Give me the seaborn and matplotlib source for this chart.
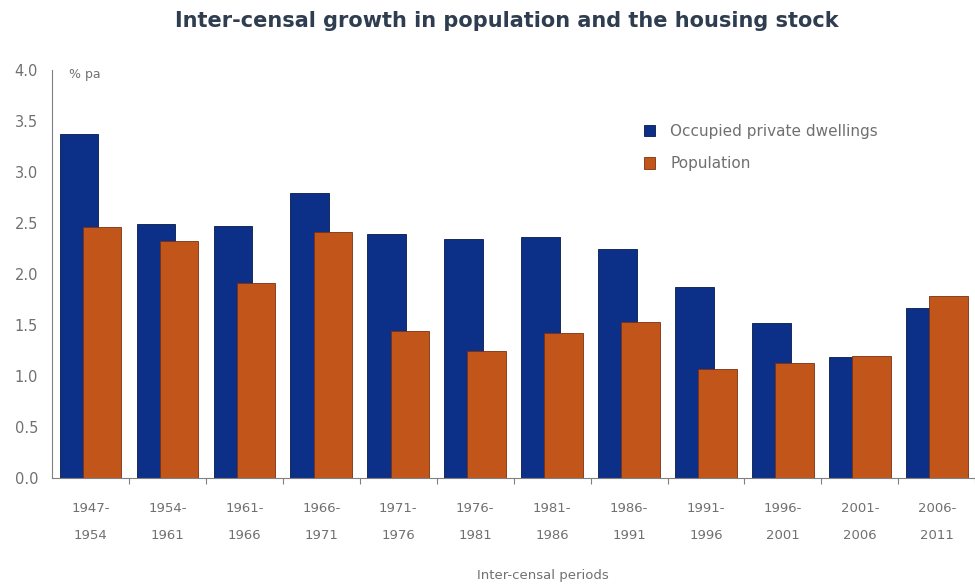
import numpy as np
import pandas as pd
import matplotlib.pyplot as plt
import seaborn as sns
from matplotlib.patches import Patch

periods = ["1947-\n1954", "1954-\n1961", "1961-\n1966", "1966-\n1971", "1971-\n1976", "1976-\n1981",
           "1981-\n1986", "1986-\n1991", "1991-\n1996", "1996-\n2001", "2001-\n2006", "2006-\n2011"]
dwellings = [3.37, 2.49, 2.47, 2.79, 2.39, 2.34, 2.36, 2.25, 1.87, 1.52, 1.19, 1.67]
population = [2.46, 2.32, 1.91, 2.41, 1.44, 1.25, 1.42, 1.53, 1.07, 1.13, 1.20, 1.78]
yticks = [0.0, 0.5, 1.0, 1.5, 2.0, 2.5, 3.0, 3.5, 4.0]

blue = "#0c2f88"
orange = "#c2561a"
grey = "#808080"

sns.set_style("white")
plt.rcParams["font.family"] = ["DejaVu Sans"]

pos = np.arange(len(periods))
df = pd.DataFrame({"pos": pos, "dwellings": dwellings, "population": population})

fig = plt.figure(figsize=(9.75, 5.84), dpi=100)
ax = fig.add_axes([0.0533, 0.1815, 0.947, 0.6985])

sns.barplot(x=df.pos - 0.15, y=df.dwellings, native_scale=True, width=0.5, color=blue,
            saturation=1, edgecolor="#061a4a", linewidth=0.6, errorbar=None, ax=ax)
sns.barplot(x=df.pos + 0.15, y=df.population, native_scale=True, width=0.5, color=orange,
            saturation=1, edgecolor="#7a3010", linewidth=0.6, errorbar=None, ax=ax)

ax.set_xlim(-0.5, 11.42)
ax.set_ylim(0, 4.0)
ax.set_xticks(pos)
ax.set_xticklabels(periods, linespacing=2.4)
ax.set_xticks(np.arange(len(periods)) + 0.5, minor=True)
ax.tick_params(axis="x", which="major", length=0, pad=17, labelsize=9.5, labelcolor="#707070")
ax.tick_params(axis="x", which="minor", length=4, color=grey, width=0.8, direction="out")
ax.set_yticks(yticks)
ax.set_yticklabels([f"{v:.1f}" for v in yticks])
ax.tick_params(axis="y", length=4, color=grey, width=0.8, direction="out", pad=6,
               labelsize=10.5, labelcolor="#707070")
ax.tick_params(bottom=False, which="major")
ax.tick_params(axis="x", which="minor", bottom=True)

for s in ["top", "right"]:
    ax.spines[s].set_visible(False)
for s in ["left", "bottom"]:
    ax.spines[s].set_color(grey)
    ax.spines[s].set_linewidth(0.8)

ax.set_ylabel("")
ax.set_xlabel("Inter-censal periods", fontsize=9.5, color="#707070")
ax.xaxis.set_label_coords(0.532, -0.222)
ax.text(0.018, 0.99, "% pa", transform=ax.transAxes, fontsize=9, color="#707070", va="center")

handles = [Patch(facecolor=blue, edgecolor="#061a4a", linewidth=0.6),
           Patch(facecolor=orange, edgecolor="#7a3010", linewidth=0.6)]
leg = ax.legend(handles, ["Occupied private dwellings", "Population"],
                loc="upper left", bbox_to_anchor=(0.66, 0.788), bbox_transform=fig.transFigure,
                frameon=False, fontsize=11, labelcolor="#707070", handlelength=0.75,
                handleheight=0.75, handletextpad=1.0, labelspacing=1.15, borderpad=0,
                borderaxespad=0)

fig.text(0.52, 0.964, "Inter-censal growth in population and the housing stock",
         ha="center", va="center", fontsize=15, fontweight="bold", color="#2f3d50")

fig.savefig("out.png", dpi=100)
